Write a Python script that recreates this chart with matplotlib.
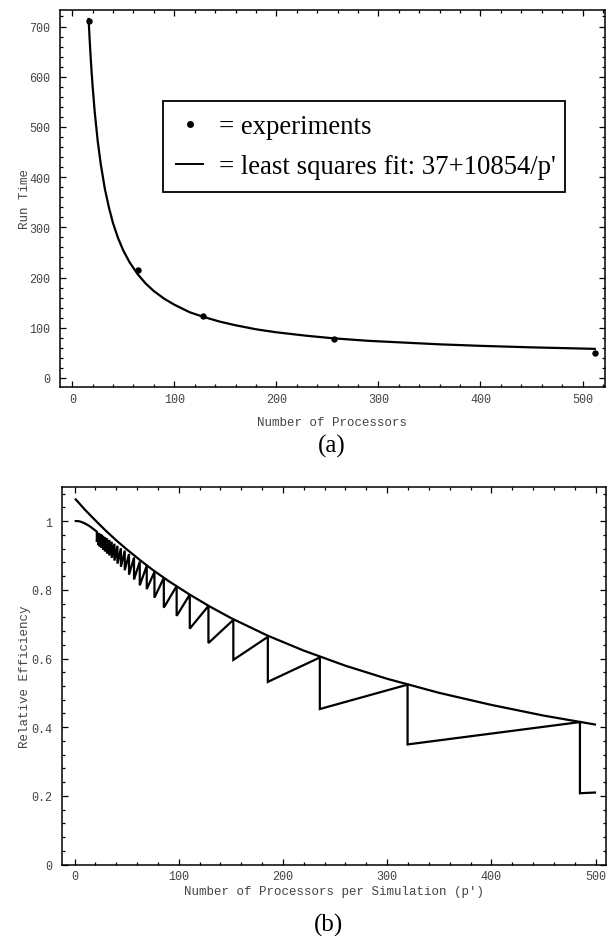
import matplotlib
matplotlib.use("Agg")
import matplotlib.pyplot as plt
from matplotlib.lines import Line2D
from matplotlib.ticker import MultipleLocator, FuncFormatter

# ---------------------------------------------------------
# (a) run time vs processors
# ---------------------------------------------------------
EXP_P = [16, 64, 128, 256, 512]
EXP_T = [712, 215, 123, 78, 50]

# least squares fit curve
FIT_P = [16, 17, 18, 19, 20, 22, 25, 28, 32, 36, 40, 45, 50, 56, 64, 72, 80, 90,
         100, 115, 128, 145, 160, 180, 200, 230, 256, 290, 320, 360, 400, 450, 512]
FIT_T = [715, 676, 640, 608, 580, 530, 471, 425, 376, 339, 308, 278, 254, 231, 207,
         188, 173, 158, 146, 131, 122, 112, 105, 97, 91, 84, 79, 74, 71, 67, 64, 61, 58]

# ---------------------------------------------------------
# (b) relative efficiency vs processors per simulation
# ---------------------------------------------------------
UPPER_P = [1.2, 10, 20, 30, 40, 50, 62.6, 75, 90, 110, 130, 150, 185, 220, 260,
           300, 350, 400, 450, 499.4]
UPPER_E = [1.063, 1.033, 1.002, 0.972, 0.944, 0.918, 0.887, 0.858, 0.826, 0.787,
           0.751, 0.718, 0.667, 0.623, 0.579, 0.541, 0.500, 0.465, 0.434, 0.408]

# smooth start of the lower curve
HEAD_P = [1.2, 3, 5, 7, 10, 13, 16, 18, 19.8]
HEAD_E = [1.0, 1.0, 0.999, 0.997, 0.993, 0.988, 0.982, 0.977, 0.973]

# sawtooth: position of each drop, value before and after it
DROP_P = [21.4, 22.8, 24.2, 25.7, 27.4, 29.2, 31.2, 33.3, 35.7, 38.3, 41.2, 44.5,
          48.2, 52.3, 57.1, 62.6, 69.3, 76.7, 85.7, 98.0, 110.6, 128.5, 152.4,
          185.5, 235.4, 319.6, 485.0]
DROP_TOP = [0.969, 0.966, 0.963, 0.961, 0.957, 0.9535, 0.949, 0.945, 0.940, 0.934,
            0.928, 0.921, 0.914, 0.904, 0.894, 0.882, 0.870, 0.852, 0.835, 0.811,
            0.786, 0.753, 0.7125, 0.663, 0.603, 0.524, 0.415]
DROP_BOT = [0.940, 0.930, 0.926, 0.923, 0.917, 0.912, 0.906, 0.900, 0.893, 0.885,
            0.876, 0.867, 0.857, 0.844, 0.830, 0.813, 0.802, 0.777, 0.748, 0.724,
            0.687, 0.645, 0.596, 0.532, 0.453, 0.350, 0.208]
TAIL_P = [499.4]
TAIL_E = [0.210]

GRAY = "#444444"
MONO = "Liberation Mono"
SERIF = "Liberation Serif"


def style_axes(ax, xmajor, xminor, ymajor, yminor):
    ax.xaxis.set_major_locator(MultipleLocator(xmajor))
    ax.xaxis.set_minor_locator(MultipleLocator(xminor))
    ax.yaxis.set_major_locator(MultipleLocator(ymajor))
    ax.yaxis.set_minor_locator(MultipleLocator(yminor))
    ax.tick_params(which="both", direction="in", top=True, right=True,
                   color="black", width=0.9, labelcolor=GRAY, labelsize=8.5)
    ax.tick_params(which="major", length=4)
    ax.tick_params(which="minor", length=2.5)
    ax.tick_params(axis="y", pad=7)
    ax.tick_params(axis="x", pad=4)
    for lab in ax.get_xticklabels() + ax.get_yticklabels():
        lab.set_family(MONO)
    for sp in ax.spines.values():
        sp.set_linewidth(1.1)


fig = plt.figure(figsize=(6.08, 9.37), dpi=100)

# ---------------- (a) ----------------
ax1 = fig.add_axes([0.0987, 0.5859, 0.8963, 0.4024])
ax1.plot(FIT_P, FIT_T, color="black", lw=1.6, zorder=2)
ax1.plot(EXP_P, EXP_T, "o", color="black", ms=3.6, zorder=3)
ax1.set_xlim(-12, 522)
ax1.set_ylim(-18, 733)
style_axes(ax1, 100, 20, 100, 20)
ax1.set_xlabel("Number of Processors", family=MONO, color=GRAY, fontsize=9, labelpad=8)
ax1.set_ylabel("Run Time", family=MONO, color=GRAY, fontsize=9, labelpad=-1)

handles = [
    Line2D([], [], marker="o", ls="none", color="black", ms=4),
    Line2D([], [], color="black", lw=1.4),
]
leg = ax1.legend(handles, ["= experiments", "= least squares fit: 37+10854/p'"],
                 loc="upper left", bbox_to_anchor=(0.189, 0.512, 0.738, 0.247),
                 mode="expand", borderaxespad=0,
                 prop={"family": SERIF, "size": 19.3}, frameon=True, fancybox=False,
                 edgecolor="black", framealpha=1, handlelength=1.0,
                 handletextpad=0.6, labelspacing=0.55, borderpad=0.5)
leg.get_frame().set_linewidth(1.3)

fig.text(0.545, 1 - 446 / 937, "(a)", ha="center", va="center",
         family=SERIF, fontsize=18)

# ---------------- (b) ----------------
ax2 = fig.add_axes([0.102, 0.0761, 0.8947, 0.4034])
ax2.plot(UPPER_P, UPPER_E, color="black", lw=1.6)

low_p = list(HEAD_P)
low_e = list(HEAD_E)
for p, top, bot in zip(DROP_P, DROP_TOP, DROP_BOT):
    low_p += [p, p]
    low_e += [top, bot]
low_p += TAIL_P
low_e += TAIL_E
ax2.plot(low_p, low_e, color="black", lw=1.6, solid_joinstyle="miter")

ax2.set_xlim(-12, 510)
ax2.set_ylim(0, 1.1)
style_axes(ax2, 100, 20, 0.2, 0.04)
ax2.yaxis.set_major_formatter(FuncFormatter(lambda v, _: f"{v:g}"))
for lab in ax2.get_yticklabels():
    lab.set_family(MONO)
ax2.set_xlabel("Number of Processors per Simulation (p\u2032)", family=MONO,
               color=GRAY, fontsize=9, labelpad=2)
ax2.set_ylabel("Relative Efficiency", family=MONO, color=GRAY, fontsize=9, labelpad=0)

fig.text(0.541, 1 - 925 / 937, "(b)", ha="center", va="center",
         family=SERIF, fontsize=18)

fig.savefig("out.png", dpi=100)
